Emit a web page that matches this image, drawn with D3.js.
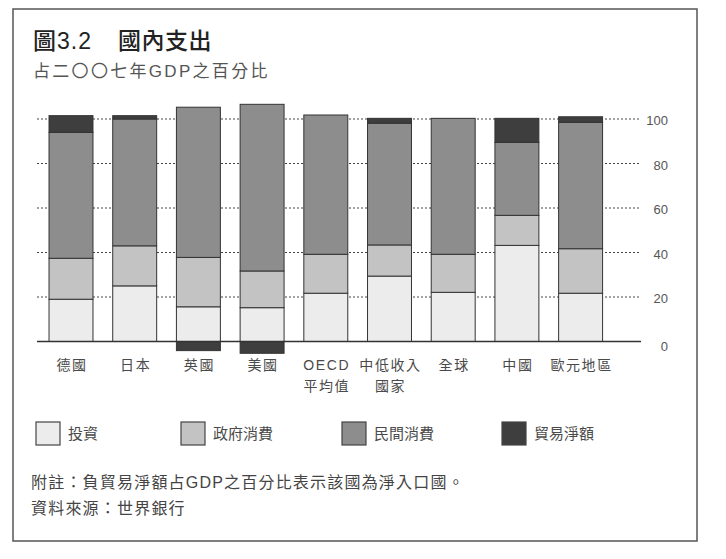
<!DOCTYPE html>
<html>
<head>
<meta charset="utf-8">
<script src="https://cdn.jsdelivr.net/npm/d3@7"></script>
<style>
  body { margin: 0; background: #fff; }
  text { font-family: "Liberation Sans", "Noto Sans CJK TC", sans-serif; }
</style>
</head>
<body>
<div id="chart"></div>
<script>
// Data (% of GDP, 2007)
const categories = ["德國", "日本", "英國", "美國", "OECD|平均值", "中低收入|國家", "全球", "中國", "歐元地區"];
const investment = [19, 25, 15.6, 15.2, 21.7, 29.4, 22.1, 43.2, 21.7];
const govConsumption = [18.4, 18, 22.2, 16.5, 17.5, 14, 17.1, 13.5, 20];
const privConsumption = [56.6, 57, 67.5, 74.9, 62.6, 54.7, 61.1, 32.8, 56.8];
const netTrade = [7.5, 1.5, -4.1, -5.3, 0, 2.2, 0, 10.8, 2.5];
const yTicks = [0, 20, 40, 60, 80, 100];

const seriesKeys = ["inv", "gov", "priv", "trade"];
const seriesNames = ["投資", "政府消費", "民間消費", "貿易淨額"];
const colors = ["#ececec", "#c3c3c3", "#8d8d8d", "#3e3e3e"];

const W = 726, H = 559;
const svg = d3.select("#chart").append("svg")
    .attr("width", W)
    .attr("height", H);

// frame
svg.append("rect")
    .attr("x", 13).attr("y", 9)
    .attr("width", 684).attr("height", 532)
    .attr("fill", "#fff")
    .attr("stroke", "#555")
    .attr("stroke-width", 1.5);

// title
svg.append("text")
    .attr("x", 33).attr("y", 49)
    .style("font-size", "23px")
    .style("font-weight", "500")
    .style("letter-spacing", "1px")
    .attr("fill", "#222")
    .text("圖3.2");
svg.append("text")
    .attr("x", 118).attr("y", 49)
    .style("font-size", "23px")
    .style("font-weight", "500")
    .style("letter-spacing", "0.5px")
    .attr("fill", "#222")
    .text("國內支出");
svg.append("text")
    .attr("x", 33).attr("y", 77)
    .style("font-size", "17px")
    .style("letter-spacing", "2.3px")
    .attr("fill", "#555")
    .text("占二〇〇七年GDP之百分比");

const data = categories.map((c, i) => ({
    cat: c,
    inv: investment[i],
    gov: govConsumption[i],
    priv: privConsumption[i],
    trade: netTrade[i]
}));

const xScale = d3.scaleBand()
    .domain(categories)
    .range([38, 613.6])
    .paddingInner(0.31)
    .paddingOuter(0.173);

const yScale = d3.scaleLinear()
    .domain([0, 100])
    .range([341.5, 119]);

// dotted grid lines
svg.append("g")
    .selectAll("line")
    .data(yTicks.filter(d => d > 0))
    .enter()
    .append("line")
    .attr("x1", 37).attr("x2", 641)
    .attr("y1", d => yScale(d)).attr("y2", d => yScale(d))
    .attr("stroke", "#444")
    .attr("stroke-width", 1.2)
    .attr("stroke-dasharray", "2,2");

// right-side tick labels
svg.append("g")
    .selectAll("text")
    .data(yTicks)
    .enter()
    .append("text")
    .attr("x", 668)
    .attr("y", d => yScale(d) + 6 + (d === 0 ? 3 : 0))
    .attr("text-anchor", "end")
    .style("font-size", "13px")
    .attr("fill", "#555")
    .text(d => d);

// stacked bars
const stacked = d3.stack()
    .keys(seriesKeys)
    .offset(d3.stackOffsetDiverging)(data);

svg.append("g")
    .selectAll("g")
    .data(stacked)
    .enter()
    .append("g")
    .attr("fill", (d, i) => colors[i])
    .selectAll("rect")
    .data(d => d.filter(s => s[1] !== s[0]))
    .enter()
    .append("rect")
    .attr("x", d => xScale(d.data.cat))
    .attr("width", xScale.bandwidth())
    .attr("y", d => yScale(Math.max(d[0], d[1])))
    .attr("height", d => Math.abs(yScale(d[0]) - yScale(d[1])))
    .attr("stroke", "#333")
    .attr("stroke-width", 1);

// baseline
svg.append("line")
    .attr("x1", 37).attr("x2", 641)
    .attr("y1", yScale(0)).attr("y2", yScale(0))
    .attr("stroke", "#333")
    .attr("stroke-width", 1.3);

// category labels
const labels = svg.append("g")
    .selectAll("text")
    .data(categories)
    .enter()
    .append("text")
    .attr("y", 370)
    .attr("text-anchor", "middle")
    .style("font-size", "14px")
    .style("letter-spacing", "1.6px")
    .attr("fill", "#4a4a4a");
labels.each(function(d) {
    const parts = d.split("|");
    const t = d3.select(this);
    parts.forEach((p, i) => {
        t.append("tspan")
            .attr("x", xScale(d) + xScale.bandwidth() / 2 + 1)
            .attr("dy", i === 0 ? 0 : 21)
            .text(p);
    });
});

// legend
const legendX = [36, 181, 342, 502];
const legend = svg.append("g")
    .selectAll("g")
    .data(seriesNames)
    .enter()
    .append("g")
    .attr("transform", (d, i) => "translate(" + legendX[i] + ",422)");
legend.append("rect")
    .attr("width", 24).attr("height", 23)
    .attr("fill", (d, i) => colors[i])
    .attr("stroke", "#444")
    .attr("stroke-width", 1.2);
legend.append("text")
    .attr("x", 32).attr("y", 17)
    .style("font-size", "15px")
    .attr("fill", "#4a4a4a")
    .text(d => d);

// notes
svg.append("text")
    .attr("x", 31).attr("y", 488)
    .style("font-size", "16px")
    .style("letter-spacing", "1.2px")
    .attr("fill", "#444")
    .text("附註：負貿易淨額占GDP之百分比表示該國為淨入口國。");
svg.append("text")
    .attr("x", 31).attr("y", 514)
    .style("font-size", "16px")
    .style("letter-spacing", "1.2px")
    .attr("fill", "#444")
    .text("資料來源：世界銀行");
</script>
</body>
</html>
